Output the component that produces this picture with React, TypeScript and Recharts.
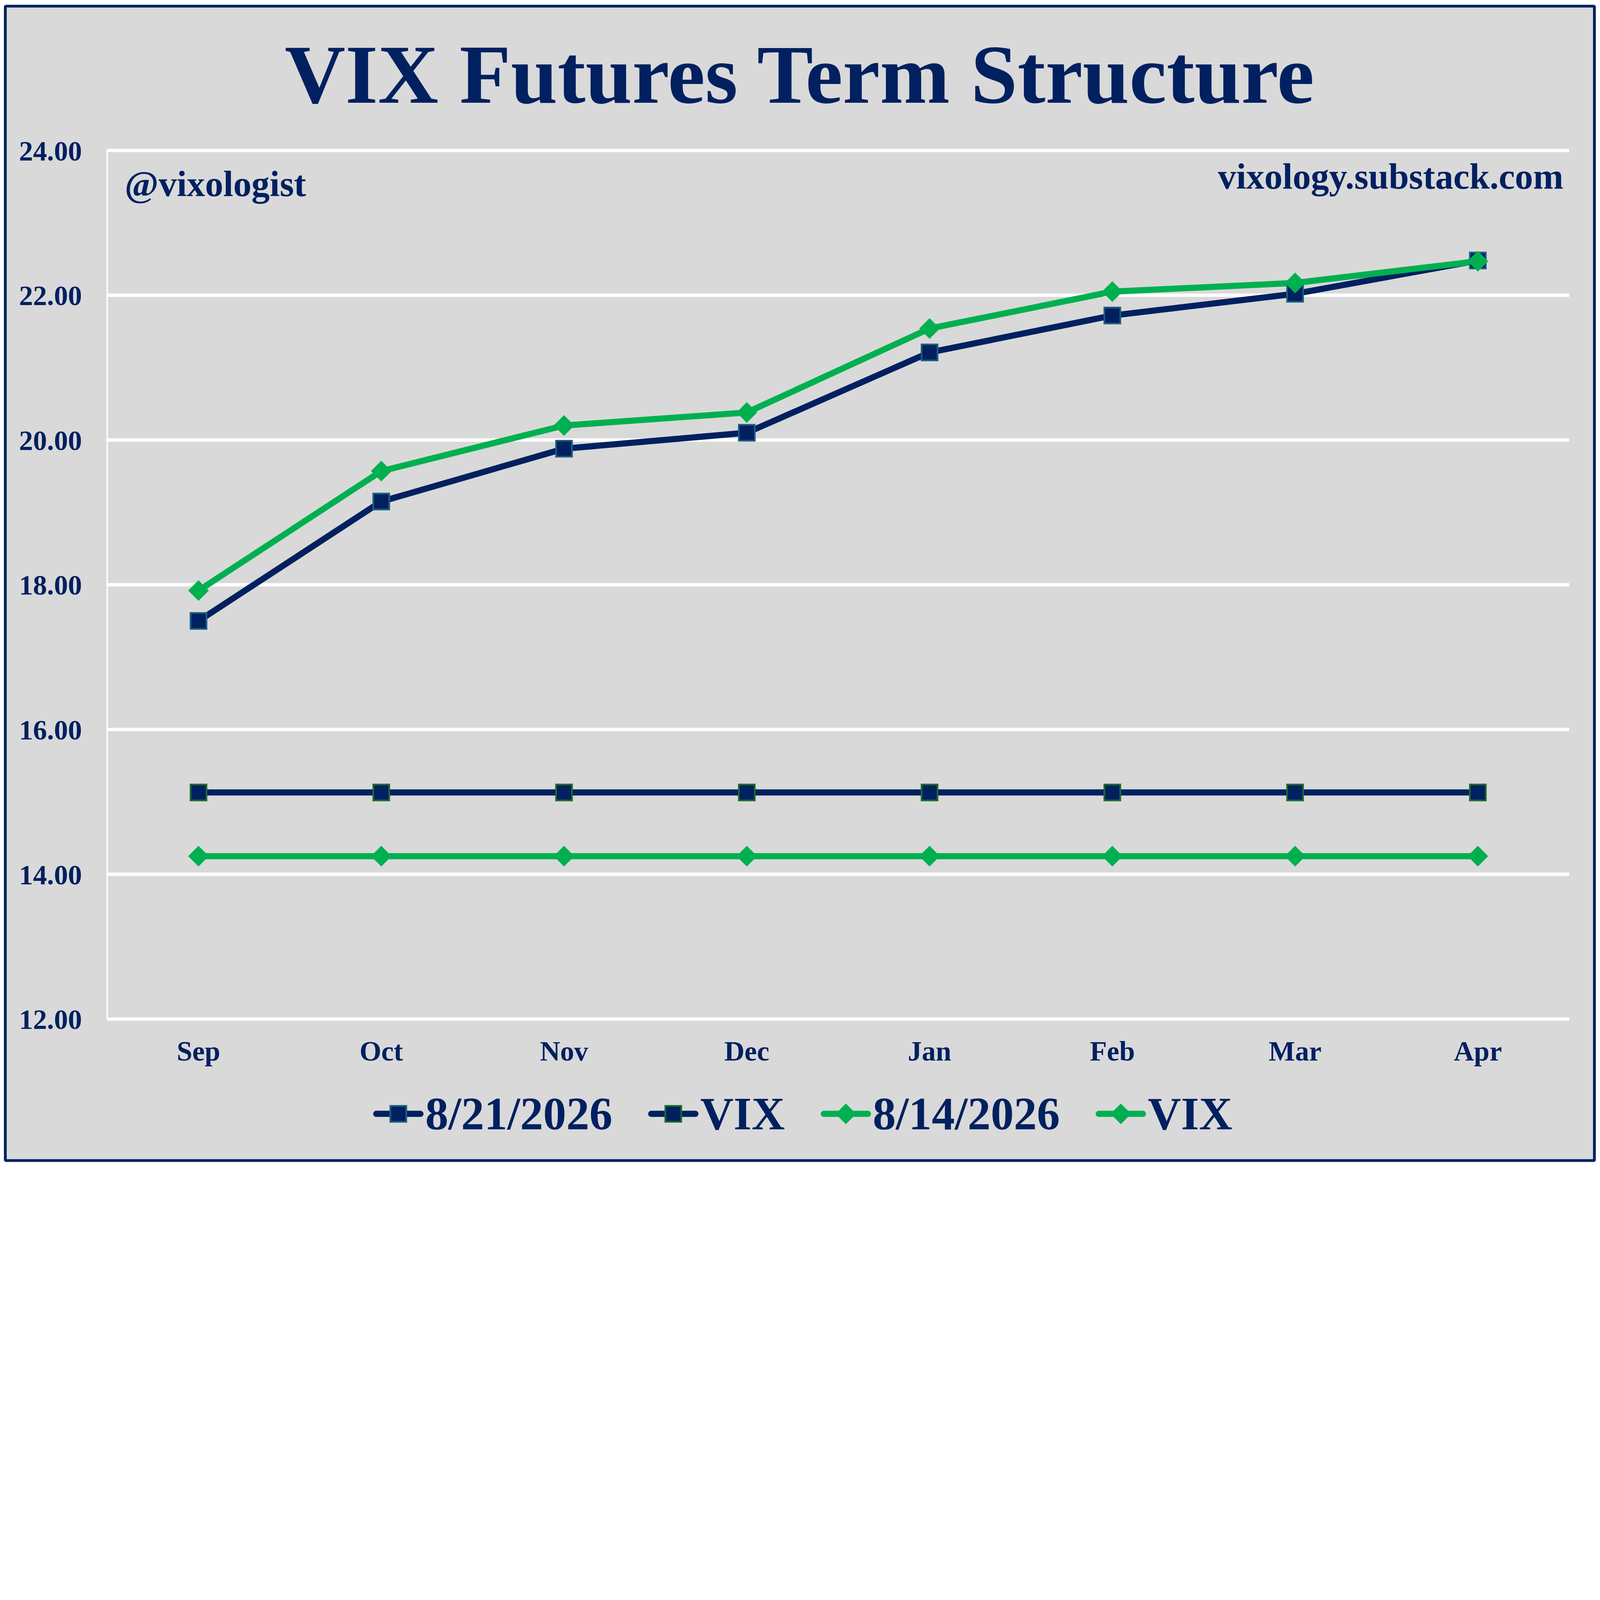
import React from 'react';
import { LineChart, Line, XAxis, YAxis, CartesianGrid, Legend } from 'recharts';

// ---------- data ----------
const months = ['Sep', 'Oct', 'Nov', 'Dec', 'Jan', 'Feb', 'Mar', 'Apr'];
const futures0821 = [17.5, 19.15, 19.88, 20.1, 21.21, 21.72, 22.02, 22.48];
const vix0821 = [15.13, 15.13, 15.13, 15.13, 15.13, 15.13, 15.13, 15.13];
const futures0814 = [17.92, 19.57, 20.2, 20.38, 21.54, 22.05, 22.17, 22.47];
const vix0814 = [14.25, 14.25, 14.25, 14.25, 14.25, 14.25, 14.25, 14.25];
const yTicks = [12, 14, 16, 18, 20, 22, 24];
const seriesLabels = ['8/21/2026', 'VIX', '8/14/2026', 'VIX'];

const data = months.map((m, i) => ({
  month: m,
  f0821: futures0821[i],
  v0821: vix0821[i],
  f0814: futures0814[i],
  v0814: vix0814[i],
}));

// ---------- styles ----------
const NAVY = '#002060';
const GREEN = '#00B050';
const SQ_STROKE_BLUE = '#1B5E80';
const SQ_STROKE_GREEN = '#1E6B2B';
const BG = '#D9D9D9';
const FONT = "'Liberation Serif', 'Times New Roman', serif";
const LINE_W = 22;

// design size (reference)
const W = 5720;
const H = 4170;

type SeriesCfg = { key: string; name: string; color: string; marker: 'square' | 'diamond'; markerStroke?: string };
const series: SeriesCfg[] = [
  { key: 'f0821', name: seriesLabels[0], color: NAVY, marker: 'square', markerStroke: SQ_STROKE_BLUE },
  { key: 'v0821', name: seriesLabels[1], color: NAVY, marker: 'square', markerStroke: SQ_STROKE_GREEN },
  { key: 'f0814', name: seriesLabels[2], color: GREEN, marker: 'diamond' },
  { key: 'v0814', name: seriesLabels[3], color: GREEN, marker: 'diamond' },
];

const SQ = 57;
const DIA = 37;

function markerShape(cfg: SeriesCfg, cx: number, cy: number, key?: string) {
  if (cfg.marker === 'square') {
    return (
      <rect
        key={key}
        x={cx - SQ / 2}
        y={cy - SQ / 2}
        width={SQ}
        height={SQ}
        fill={NAVY}
        stroke={cfg.markerStroke}
        strokeWidth={6}
      />
    );
  }
  return (
    <polygon
      key={key}
      points={`${cx},${cy - DIA} ${cx + DIA},${cy} ${cx},${cy + DIA} ${cx - DIA},${cy}`}
      fill={GREEN}
    />
  );
}

const makeDot = (cfg: SeriesCfg) => (props: any) => {
  const { cx, cy, index } = props;
  if (cx == null || cy == null) return <g key={`${cfg.key}-n-${index}`} />;
  return markerShape(cfg, cx, cy, `${cfg.key}-${index}`);
};

const LegendContent = () => {
  return (
    <div
      style={{
        display: 'flex',
        justifyContent: 'center',
        alignItems: 'center',
        height: 165,
        paddingLeft: 20,
        fontFamily: FONT,
      }}
    >
      {series.map((cfg, i) => (
        <div
          key={cfg.key}
          style={{ display: 'flex', alignItems: 'center', marginRight: i < series.length - 1 ? 128 : 0 }}
        >
          <svg width={180} height={80} style={{ display: 'block' }}>
            <line x1={11} y1={40} x2={169} y2={40} stroke={cfg.color} strokeWidth={LINE_W} strokeLinecap="round" />
            {markerShape(cfg, 90, 40)}
          </svg>
          <span
            style={{
              marginLeft: 6,
              fontSize: 165,
              lineHeight: 1,
              fontWeight: 'bold',
              color: NAVY,
              whiteSpace: 'nowrap',
            }}
          >
            {cfg.name}
          </span>
        </div>
      ))}
    </div>
  );
};

export default function App() {
  const vw = typeof window !== 'undefined' ? window.innerWidth : W;
  const scale = Math.min(1, vw / W);
  return (
    <div style={{ width: W * scale, height: H * scale, overflow: 'hidden' }}>
      <style>{'body{margin:0;}'}</style>
      <div
        style={{
          position: 'relative',
          width: W,
          height: H,
          background: '#FFFFFF',
          fontFamily: FONT,
          transform: `scale(${scale})`,
          transformOrigin: '0 0',
        }}
      >
        <div
          style={{
            position: 'absolute',
            left: 14,
            top: 17,
            width: 5691,
            height: 4137,
            boxSizing: 'border-box',
            border: `10px solid ${NAVY}`,
            borderRadius: 8,
            background: BG,
          }}
        />
        <div style={{ position: 'absolute', left: 0, top: 0 }}>
          <LineChart width={W} height={H} data={data} margin={{ top: 538, right: 110, bottom: 377, left: 183 }}>
            <CartesianGrid horizontal vertical={false} stroke="#FFFFFF" strokeWidth={12} />
            <XAxis
              dataKey="month"
              type="category"
              scale="band"
              height={150}
              axisLine={false}
              tickLine={false}
              tickSize={0}
              tickMargin={78}
              interval={0}
              tick={{ fill: NAVY, fontSize: 100, fontWeight: 'bold', fontFamily: FONT }}
            />
            <YAxis
              domain={[12, 24]}
              ticks={yTicks}
              width={200}
              axisLine={{ stroke: '#FFFFFF', strokeWidth: 5 }}
              tickLine={false}
              tickSize={0}
              tickMargin={90}
              interval={0}
              tickFormatter={(v: number) => v.toFixed(2)}
              tick={{ fill: NAVY, fontSize: 100, fontWeight: 'bold', fontFamily: FONT }}
            />
            <Legend
              verticalAlign="middle"
              align="center"
              layout="horizontal"
              width={W}
              wrapperStyle={{ top: 3899, left: 0, width: W }}
              content={LegendContent}
            />
            {series.map((s) => (
              <Line
                key={s.key}
                type="linear"
                dataKey={s.key}
                name={s.name}
                stroke={s.color}
                strokeWidth={LINE_W}
                strokeLinejoin="round"
                strokeLinecap="round"
                dot={makeDot(s)}
                activeDot={false}
                isAnimationActive={false}
              />
            ))}
          </LineChart>
        </div>
        <svg width={W} height={H} style={{ position: 'absolute', left: 0, top: 0, pointerEvents: 'none' }}>
          <text x={2858} y={367} textAnchor="middle" fontSize={300} fontWeight="bold" fill={NAVY} fontFamily={FONT}>
            VIX Futures Term Structure
          </text>
          <text x={446} y={701} textAnchor="start" fontSize={130} fontWeight="bold" fill={NAVY} fontFamily={FONT}>
            @vixologist
          </text>
          <text x={5589} y={675} textAnchor="end" fontSize={130} fontWeight="bold" fill={NAVY} fontFamily={FONT}>
            vixology.substack.com
          </text>
        </svg>
      </div>
    </div>
  );
}
